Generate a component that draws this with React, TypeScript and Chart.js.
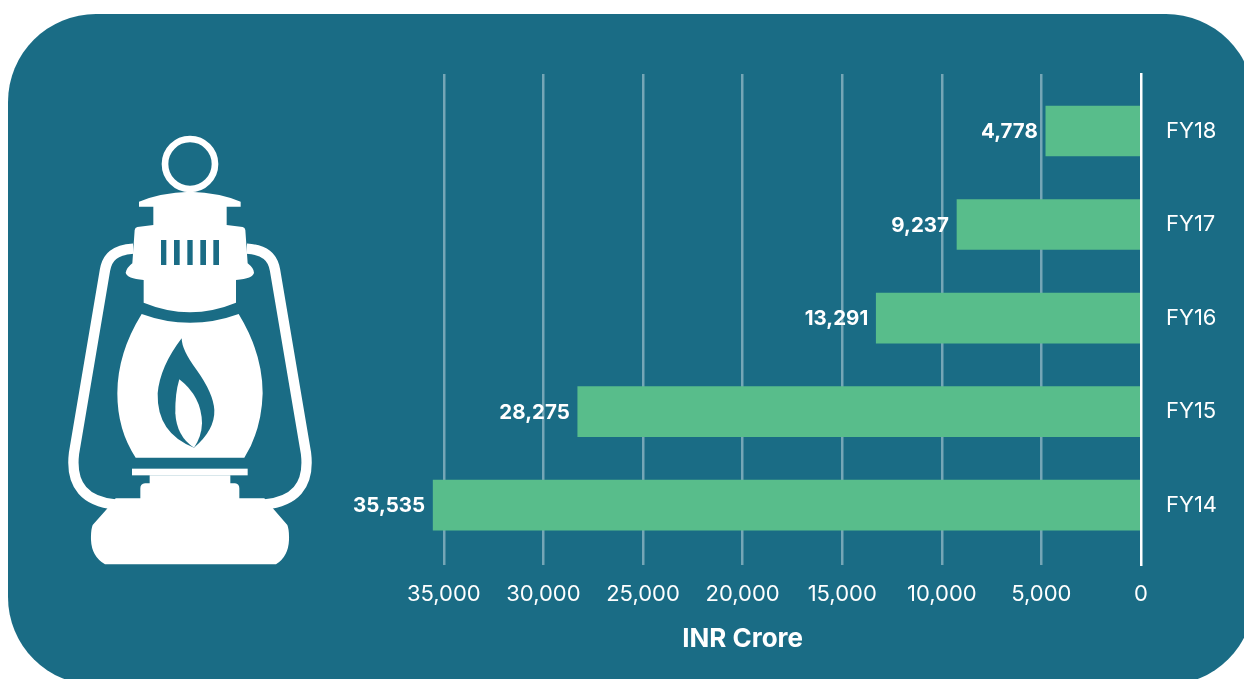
import React, { useEffect, useRef } from "react";
import { Chart, registerables } from "chart.js";

Chart.register(...registerables);

const categories = ["FY18", "FY17", "FY16", "FY15", "FY14"];
const values = [4778, 9237, 13291, 28275, 35535];

const TEAL = "#1A6C85";
const GREEN = "#58BD8B";
const FONT = "Inter";

const valueLabels = {
  id: "valueLabels",
  afterDatasetsDraw(chart: any) {
    const { ctx, scales } = chart;
    ctx.save();
    ctx.fillStyle = "#fff";
    ctx.font = `700 20.5px ${FONT}`;
    ctx.textAlign = "right";
    ctx.textBaseline = "middle";
    values.forEach((v, i) => {
      const x = scales.x.getPixelForValue(v) - 8;
      const y = scales.y.getPixelForValue(i) + 1;
      ctx.fillText(v.toLocaleString("en-US"), x, y);
    });
    ctx.restore();
  },
};

function Lantern() {
  return (
    <svg
      viewBox="0 0 1020 1500"
      style={{ position: "absolute", left: 0, top: 100, width: 340, height: 500 }}
    >
      <circle cx="570" cy="192" r="75" fill="none" stroke="#fff" strokeWidth="20" />
      <g fill="none" stroke="#fff" strokeWidth="31">
        <path d="M400 446 C345 450 322 470 315 510 L222 1060 C210 1160 260 1205 345 1213" />
        <path d="M740 446 C795 450 818 470 825 510 L918 1060 C930 1160 880 1205 795 1213" />
      </g>
      <path
        fill="#fff"
        d="M417 320 L417 305 Q480 278 570 275 Q660 278 722 305 L722 320 L680 320 L680 375 L728 381 Q735 382 736 390 L743 490 Q762 505 762 518 Q760 535 708 540 L708 608 Q570 665 431 608 L431 540 Q380 535 377 518 Q380 503 397 490 L404 390 Q405 382 412 381 L460 375 L460 320 Z"
      />
      <g fill={TEAL}>
        <rect x="483" y="420" width="16" height="75" />
        <rect x="522" y="420" width="17" height="75" />
        <rect x="562" y="420" width="16" height="75" />
        <rect x="601" y="420" width="17" height="75" />
        <rect x="640" y="420" width="17" height="75" />
      </g>
      <path
        fill="#fff"
        d="M425 642 Q570 695 716 642 Q788 760 788 880 Q785 990 733 1073 L407 1073 Q352 990 352 880 Q352 760 425 642 Z"
      />
      <path
        fill={TEAL}
        d="M545 715 Q480 800 473 880 Q470 1000 582 1043 Q645 990 643 930 Q640 880 590 810 Q545 750 545 715 Z"
      />
      <path
        fill="#fff"
        d="M538 838 Q525 880 526 940 Q530 1010 582 1043 Q605 1010 606 970 Q605 890 538 838 Z"
      />
      <rect x="396" y="1106" width="347" height="20" fill="#fff" />
      <path
        fill="#fff"
        d="M449 1126 L691 1126 L691 1150 L705 1150 Q718 1152 718 1165 L718 1195 L793 1195 L823 1230 L862 1275 Q868 1290 867 1320 Q865 1370 828 1393 L315 1393 Q275 1370 273 1320 Q272 1290 278 1275 L318 1230 L347 1195 L421 1195 L421 1165 Q421 1152 435 1150 L449 1150 Z"
      />
    </svg>
  );
}

export default function App() {
  const ref = useRef<HTMLCanvasElement>(null);

  useEffect(() => {
    const chart = new Chart(ref.current as HTMLCanvasElement, {
      type: "bar",
      data: {
        datasets: [
          {
            data: values.map((v, i) => ({ x: v, y: i })),
            backgroundColor: GREEN,
            barThickness: 50,
            borderWidth: 0,
          },
        ],
      } as any,
      options: {
        indexAxis: "y",
        responsive: false,
        animation: false,
        layout: { padding: { left: 344.2, top: 74, right: 0, bottom: 0 } },
        plugins: { legend: { display: false }, tooltip: { enabled: false } },
        scales: {
          x: {
            type: "linear",
            reverse: true,
            min: 0,
            max: 40000,
            afterBuildTicks: (s: any) => {
              s.ticks = s.ticks.filter((t: any) => t.value <= 35000);
            },
            afterFit: (s: any) => {
              s.height = 114;
            },
            ticks: {
              stepSize: 5000,
              maxRotation: 0,
              autoSkip: false,
              padding: 16,
              color: "#fff",
              font: { family: FONT, size: 22 },
              callback: (v: any) => Number(v).toLocaleString("en-US"),
            },
            grid: {
              color: (c: any) => (c.tick && c.tick.value === 0 ? "rgba(0,0,0,0)" : "rgba(255,255,255,0.4)"),
              lineWidth: 2.5,
              drawTicks: false,
            },
            border: { display: false },
            title: {
              display: true,
              text: "INR Crore",
              color: "#fff",
              font: { family: FONT, size: 26, weight: "700" },
              padding: { top: 18, bottom: 24 },
            },
          },
          y: {
            type: "linear",
            position: "right",
            reverse: true,
            offset: false,
            min: -0.61,
            max: 4.641,
            afterBuildTicks: (s: any) => {
              s.ticks = categories.map((_, i) => ({ value: i }));
            },
            afterFit: (s: any) => {
              s.width = 103;
            },
            ticks: {
              padding: 25,
              color: "#fff",
              align: "center",
              crossAlign: "near",
              font: { family: FONT, size: 22 },
              callback: (v: any) => categories[Number(v)],
            },
            grid: { display: false, drawTicks: false },
            border: { display: true, color: "#fff", width: 2.5, z: 1 },
          },
        },
      } as any,
      plugins: [valueLabels],
    });
    return () => chart.destroy();
  }, []);

  return (
    <div
      style={{
        position: "fixed",
        left: 0,
        top: 0,
        width: 1244,
        height: 679,
        overflow: "hidden",
        background: "#fff",
      }}
    >
      <div
        style={{
          position: "absolute",
          left: 8,
          top: 14,
          width: 1246,
          height: 671,
          borderRadius: 88,
          background: TEAL,
        }}
      />
      <Lantern />
      <canvas
        ref={ref}
        width={1244}
        height={679}
        style={{ position: "absolute", left: 0, top: 0, width: 1244, height: 679 }}
      />
    </div>
  );
}
